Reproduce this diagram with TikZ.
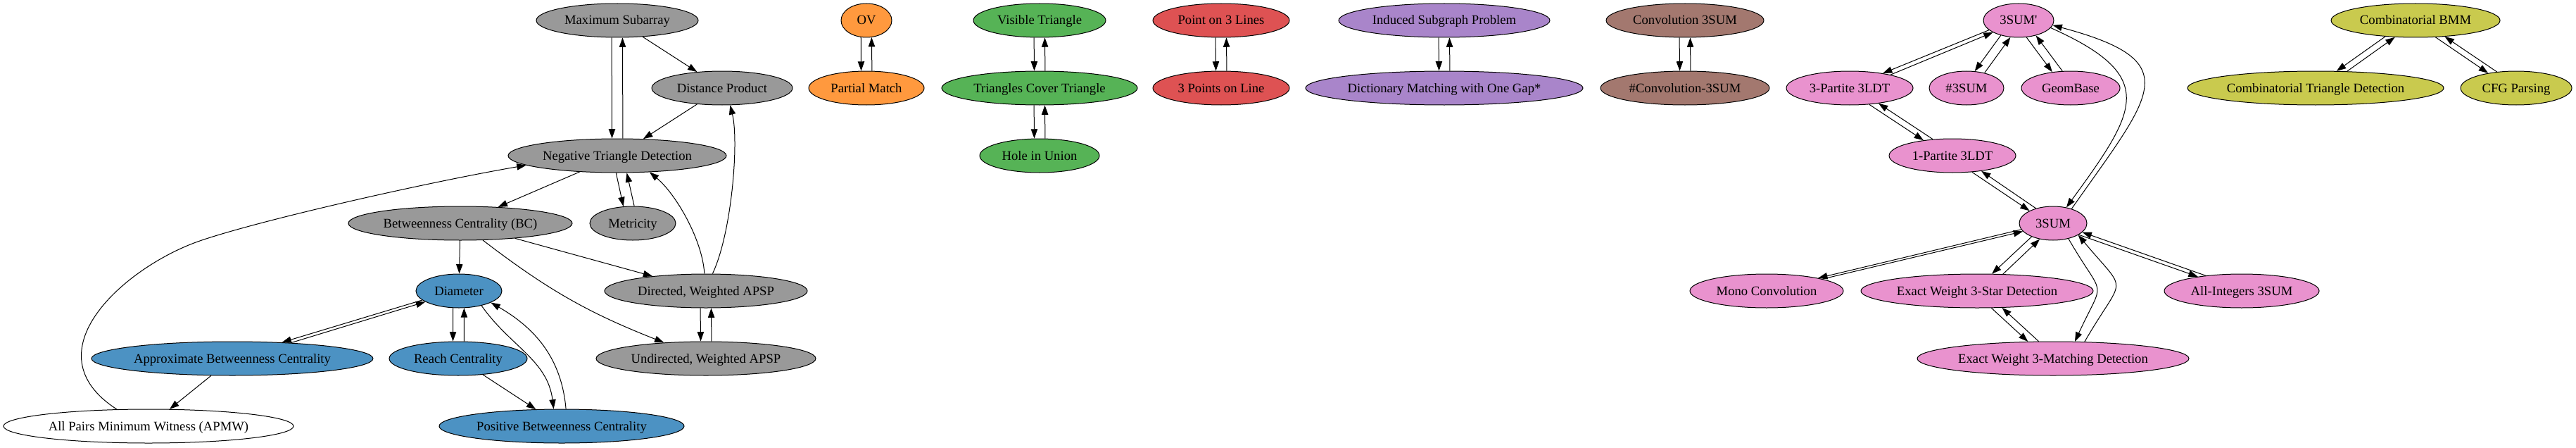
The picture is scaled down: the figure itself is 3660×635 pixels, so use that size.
\documentclass[tikz,border=0pt]{standalone}
\usepackage{fontspec}
\setmainfont{Liberation Serif}
\usepackage{tikz}
\usetikzlibrary{arrows.meta,shapes.geometric}
\definecolor{PlotGray}{HTML}{999999}
\definecolor{PlotBlue}{HTML}{4C92C3}
\definecolor{PlotOrange}{HTML}{FF993E}
\definecolor{PlotGreen}{HTML}{56B356}
\definecolor{PlotRed}{HTML}{DE5253}
\definecolor{PlotPurple}{HTML}{A985CA}
\definecolor{PlotBrown}{HTML}{A3786F}
\definecolor{PlotPink}{HTML}{E992CE}
\definecolor{PlotOlive}{HTML}{C9CA4E}
% one reduction #1 -> #2, moved sideways so that its reverse fits beside it
\newcommand\linksep{5.6}
\newcommand\onelink[2]{%
  \pgfmathanglebetweenpoints{\pgfpointanchor{#1}{center}}{\pgfpointanchor{#2}{center}}%
  \let\linkang\pgfmathresult
  \pgfpointdiff{\pgfpointanchor{#1}{center}}{\pgfpointanchor{#1}{\linkang}}%
  \pgfgetlastxy{\linkx}{\linky}%
  \pgfmathsetmacro\angfrom{\linkang-asin(\linksep*abs(sin(\linkang))/veclen(\linkx,\linky))}%
  \pgfmathsetmacro\angback{\linkang+180}%
  \pgfpointdiff{\pgfpointanchor{#2}{center}}{\pgfpointanchor{#2}{\angback}}%
  \pgfgetlastxy{\linkx}{\linky}%
  \pgfmathsetmacro\angto{\angback+asin(\linksep*abs(sin(\linkang))/veclen(\linkx,\linky))}%
  \draw[link] (#1.\angfrom) -- (#2.\angto);}
\newcommand\twolinks[2]{\onelink{#1}{#2}\onelink{#2}{#1}}

\begin{document}
\begin{tikzpicture}[x=0.75pt,y=0.75pt,
    prob/.style={ellipse,draw=black,line width=0.75pt,inner xsep=0pt,inner ysep=2pt,
      minimum width=54pt,minimum height=36pt,text height=10.5pt,text depth=1.5pt,
      font=\fontsize{14pt}{16pt}\selectfont},
    halfw/.style={minimum width=1.5*#1pt},
    link/.style={draw=black,line width=0.75pt,-{Triangle[length=10pt,width=7pt]}}]
  \useasboundingbox (0,0) rectangle (3660,-635);

  % APSP / triangle cluster
  \node[prob,halfw=115,fill=PlotGray] (maxsub) at (877,-29) {Maximum Subarray};
  \node[prob,halfw=100,fill=PlotGray] (distprod) at (1026,-125) {Distance Product};
  \node[prob,halfw=155,fill=PlotGray] (negtri) at (877,-221) {Negative Triangle Detection};
  \node[prob,halfw=159,fill=PlotGray] (bc) at (654,-317) {Betweenness Centrality (BC)};
  \node[prob,halfw=61,fill=PlotGray] (metric) at (899,-317) {Metricity};
  \node[prob,halfw=144,fill=PlotGray] (dwapsp) at (1003,-413) {Directed, Weighted APSP};
  \node[prob,halfw=156,fill=PlotGray] (uwapsp) at (1003,-509) {Undirected, Weighted APSP};
  \node[prob,halfw=61,fill=PlotBlue] (diam) at (652,-413) {Diameter};
  \node[prob,halfw=200,fill=PlotBlue] (approxbc) at (330,-509) {Approximate Betweenness Centrality};
  \node[prob,halfw=98,fill=PlotBlue] (reach) at (651,-509) {Reach Centrality};
  \node[prob,halfw=174,fill=PlotBlue] (posbc) at (798,-605) {Positive Betweenness Centrality};
  \node[prob,halfw=206,fill=white] (apmw) at (211,-605) {All Pairs Minimum Witness (APMW)};

  % small clusters
  \node[prob,halfw=36,fill=PlotOrange] (ov) at (1231,-29) {OV};
  \node[prob,halfw=82,fill=PlotOrange] (pmatch) at (1231,-125) {Partial Match};
  \node[prob,halfw=94,fill=PlotGreen] (vistri) at (1477,-29) {Visible Triangle};
  \node[prob,halfw=139,fill=PlotGreen] (tricover) at (1477,-125) {Triangles Cover Triangle};
  \node[prob,halfw=85,fill=PlotGreen] (hole) at (1477,-221) {Hole in Union};
  \node[prob,halfw=97,fill=PlotRed] (pt3lines) at (1735,-29) {Point on 3 Lines};
  \node[prob,halfw=97,fill=PlotRed] (pts3line) at (1735,-125) {3 Points on Line};
  \node[prob,halfw=150,fill=PlotPurple] (induced) at (2052,-29) {Induced Subgraph Problem};
  \node[prob,halfw=197,fill=PlotPurple] (dictmatch) at (2052,-125) {Dictionary Matching with One Gap*};
  \node[prob,halfw=112,fill=PlotBrown] (conv3sum) at (2394,-29) {Convolution 3SUM};
  \node[prob,halfw=120,fill=PlotBrown] (sharpconv) at (2394,-125) {\#Convolution-3SUM};

  % 3SUM cluster
  \node[prob,halfw=50,fill=PlotPink] (sum3p) at (2868,-29) {3SUM\textquotesingle};
  \node[prob,halfw=90,fill=PlotPink] (partite3) at (2628,-125) {3-Partite 3LDT};
  \node[prob,halfw=53,fill=PlotPink] (sharp3sum) at (2794,-125) {\#3SUM};
  \node[prob,halfw=70,fill=PlotPink] (geombase) at (2942,-125) {GeomBase};
  \node[prob,halfw=90,fill=PlotPink] (partite1) at (2774,-221) {1-Partite 3LDT};
  \node[prob,halfw=48,fill=PlotPink] (sum3) at (2917,-317) {3SUM};
  \node[prob,halfw=109,fill=PlotPink] (monoconv) at (2510,-413) {Mono Convolution};
  \node[prob,halfw=165,fill=PlotPink] (star3) at (2809,-413) {Exact Weight 3-Star Detection};
  \node[prob,halfw=110,fill=PlotPink] (allint) at (3185,-413) {All-Integers 3SUM};
  \node[prob,halfw=193,fill=PlotPink] (match3) at (2917,-509) {Exact Weight 3-Matching Detection};

  % BMM cluster
  \node[prob,halfw=120,fill=PlotOlive] (combbmm) at (3432,-29) {Combinatorial BMM};
  \node[prob,halfw=182,fill=PlotOlive] (combtri) at (3290,-125) {Combinatorial Triangle Detection};
  \node[prob,halfw=79,fill=PlotOlive] (cfg) at (3575,-125) {CFG Parsing};

  % reductions
  \twolinks{maxsub}{negtri}
  \draw[link] (maxsub) -- (distprod);
  \draw[link] (distprod) -- (negtri);
  \draw[link] (negtri) -- (bc);
  \twolinks{negtri}{metric}
  \draw[link] (dwapsp.95) .. controls (998,-340) and (960,-275) .. (negtri.-27);
  \draw[link] (dwapsp.69) .. controls (1040,-330) and (1050,-200) .. (distprod.-65);
  \draw[link] (apmw.152) .. controls (40,-500) and (177,-380) .. (281,-343)
    .. controls (360,-315) and (600,-260) .. (negtri.186);
  \twolinks{dwapsp}{uwapsp}
  \draw[link] (bc) -- (diam);
  \draw[link] (bc) -- (dwapsp);
  \draw[link] (bc) to[bend right=8] (uwapsp);
  \twolinks{diam}{approxbc}
  \twolinks{diam}{reach}
  \draw[link] (diam.-33) to[out=-55,in=97] (posbc.115);
  \draw[link] (posbc.76) to[out=95,in=-30] (diam.-20);
  \draw[link] (reach) -- (posbc);
  \draw[link] (approxbc) -- (apmw);

  \twolinks{ov}{pmatch}
  \twolinks{vistri}{tricover}
  \twolinks{tricover}{hole}
  \twolinks{pt3lines}{pts3line}
  \twolinks{induced}{dictmatch}
  \twolinks{conv3sum}{sharpconv}

  \twolinks{sum3p}{partite3}
  \twolinks{sum3p}{sharp3sum}
  \twolinks{sum3p}{geombase}
  \draw[link] (sum3p.-13) to[out=-24,in=54,looseness=1.7] (sum3.50);
  \draw[link] (sum3.38) to[out=55,in=-15,looseness=1.95] (sum3p.-8);
  \twolinks{partite3}{partite1}
  \twolinks{partite1}{sum3}
  \twolinks{sum3}{monoconv}
  \twolinks{sum3}{star3}
  \draw[link] (sum3.-45) to[out=-60,in=65,looseness=1.8] (match3.38);
  \draw[link] (match3.28) to[out=60,in=-50,looseness=1.9] (sum3.-25);
  \twolinks{sum3}{allint}
  \twolinks{star3}{match3}

  \twolinks{combbmm}{combtri}
  \twolinks{combbmm}{cfg}
\end{tikzpicture}
\end{document}
